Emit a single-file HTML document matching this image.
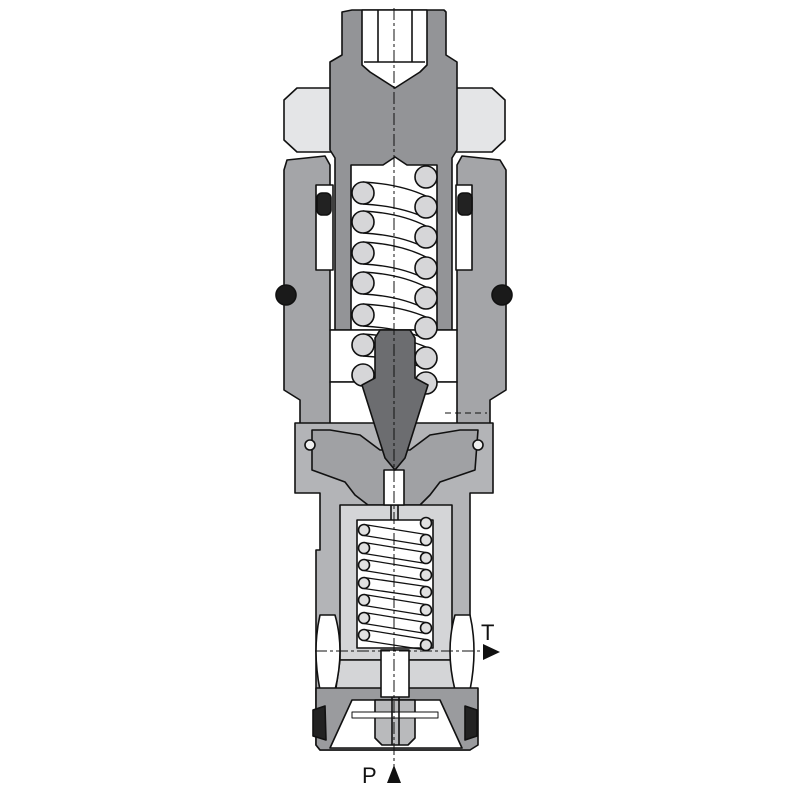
<!DOCTYPE html>
<html><head><meta charset="utf-8"><style>html,body{margin:0;padding:0;background:#fff}svg{display:block}</style></head>
<body>
<svg width="800" height="800" viewBox="0 0 800 800" xmlns="http://www.w3.org/2000/svg" stroke="#111" stroke-width="1.6" stroke-linejoin="round">
<path d="M287,160 L325,156 L330,165 L330,330 L457,330 L457,165 L462,156 L500,160 L506,170 L506,390 L490,400 L490,425 L300,425 L300,400 L284,390 L284,170 Z" fill="#a4a5a8"/>
<path d="M316,185 L333,185 L333,270 L316,270 Z" fill="#fff"/>
<path d="M456,185 L472,185 L472,270 L456,270 Z" fill="#fff"/>
<path d="M297,88 L334,88 L334,152 L297,152 L284,140 L284,100 Z" fill="#e4e5e7"/>
<path d="M455,88 L492,88 L505,100 L505,140 L492,152 L455,152 Z" fill="#e4e5e7"/>
<path d="M352,10 L444,10 L446,12 L446,55 L457,62 L457,150 L452,158 L452,330 L335,330 L335,158 L330,150 L330,62 L342,55 L342,12 Z" fill="#939497"/>
<path d="M362,10 L427,10 L427,65 L420,72 L395,88 L370,72 L362,65 Z" fill="#fff"/>
<line x1="378" y1="10" x2="378" y2="62"/><line x1="412" y1="10" x2="412" y2="62"/>
<line x1="364" y1="62" x2="425" y2="62"/>
<path d="M351,165 L383,165 L395,157 L407,165 L437,165 L437,330 L351,330 Z" fill="#fff"/>
<rect x="330" y="330" width="127" height="52" fill="#fff"/>
<path d="M330,382 L457,382 L457,425 L330,425 Z" fill="#fff"/>
<path d="M295,423 L493,423 L493,493 L470,493 L470,750 L320,750 L316,745 L316,550 L320,550 L320,493 L295,493 Z" fill="#b3b4b7"/>
<path d="M312,430 L330,430 L360,435 L380,450 L410,450 L430,435 L460,430 L478,430 L475,470 L440,482 L430,495 L420,505 L368,505 L355,495 L345,482 L312,470 Z" fill="#a0a1a4"/>
<circle cx="310" cy="445" r="5" fill="#eee"/><circle cx="478" cy="445" r="5" fill="#eee"/>
<rect x="340" y="505" width="112" height="155" fill="#d4d5d7"/>
<path d="M340,660 L452,660 L455,695 L335,695 Z" fill="#d4d5d7"/>
<path d="M320,615 L335,615 Q345,650 335,690 L320,690 Q312,650 320,615 Z" fill="#fff"/>
<path d="M455,615 L470,615 Q478,650 470,690 L455,690 Q445,650 455,615 Z" fill="#fff"/>
<path d="M316,688 L478,688 L478,745 L470,750 L320,750 L316,745 Z" fill="#9a9b9e"/>
<path d="M330,748 L352,700 L440,700 L462,748 Z" fill="#fff"/>
<path d="M375,700 L415,700 L415,738 L408,745 L382,745 L375,738 Z" fill="#b9babc"/>
<rect x="352" y="712" width="86" height="6" fill="#fff" stroke-width="1"/>
<path d="M313,710 L325,706 L326,740 L313,736 Z" fill="#222"/>
<path d="M465,706 L477,710 L477,736 L465,740 Z" fill="#222"/>
<rect x="381" y="650" width="28" height="47" fill="#fff"/>
<line x1="392" y1="697" x2="392" y2="745"/><line x1="399" y1="697" x2="399" y2="745"/>
<!-- spring 2 -->
<rect x="357" y="520" width="76" height="128" fill="#fff"/>
<g fill="none" stroke-width="1.3">
<path d="M364,524.5 L426,534.5 M364,535.5 L426,545.5"/>
<path d="M364,542.5 L426,552.5 M364,553.5 L426,563.5"/>
<path d="M364,559.5 L426,569.5 M364,570.5 L426,580.5"/>
<path d="M364,577.5 L426,586.5 M364,588.5 L426,597.5"/>
<path d="M364,594.5 L426,604.5 M364,605.5 L426,615.5"/>
<path d="M364,612.5 L426,622.5 M364,623.5 L426,633.5"/>
<path d="M364,629.5 L426,639.5 M364,640.5 L426,650"/>
</g>
<g fill="#e0e0e0">
<circle cx="364" cy="530" r="5.5"/><circle cx="364" cy="548" r="5.5"/><circle cx="364" cy="565" r="5.5"/><circle cx="364" cy="583" r="5.5"/><circle cx="364" cy="600" r="5.5"/><circle cx="364" cy="618" r="5.5"/><circle cx="364" cy="635" r="5.5"/>
<circle cx="426" cy="523" r="5.5"/><circle cx="426" cy="540" r="5.5"/><circle cx="426" cy="558" r="5.5"/><circle cx="426" cy="575" r="5.5"/><circle cx="426" cy="592" r="5.5"/><circle cx="426" cy="610" r="5.5"/><circle cx="426" cy="628" r="5.5"/><circle cx="426" cy="645" r="5.5"/>
</g>
<rect x="384" y="470" width="20" height="35" fill="#fff"/>
<line x1="391" y1="505" x2="391" y2="520"/><line x1="398" y1="505" x2="398" y2="520"/>
<!-- spring 1 -->
<g fill="none" stroke-width="1.4">
<path d="M363,182 Q400,184 426,196 M363,204 Q400,206 426,218"/>
<path d="M363,211 Q400,213 426,226 M363,233 Q400,235 426,248"/>
<path d="M363,242 Q400,244 426,257 M363,264 Q400,266 426,279"/>
<path d="M363,272 Q400,274 426,287 M363,294 Q400,296 426,309"/>
<path d="M363,304 Q400,306 426,317 M363,326 Q400,328 426,339"/>
<path d="M363,334 Q400,336 426,347 M363,356 Q400,358 426,369"/>
</g>
<g fill="#d6d6d8">
<circle cx="363" cy="193" r="11"/><circle cx="363" cy="222" r="11"/><circle cx="363" cy="253" r="11"/><circle cx="363" cy="283" r="11"/><circle cx="363" cy="315" r="11"/><circle cx="363" cy="345" r="11"/><circle cx="363" cy="375" r="11"/>
<circle cx="426" cy="177" r="11"/><circle cx="426" cy="207" r="11"/><circle cx="426" cy="237" r="11"/><circle cx="426" cy="268" r="11"/><circle cx="426" cy="298" r="11"/><circle cx="426" cy="328" r="11"/><circle cx="426" cy="358" r="11"/><circle cx="426" cy="383" r="11"/>
</g>
<path d="M380,330 L410,330 L415,338 L415,378 L428,385 L405,458 L395,470 L385,458 L362,385 L375,378 L375,338 Z" fill="#6c6d70"/>
<rect x="317" y="193" width="14" height="22" rx="5" fill="#222"/>
<rect x="458" y="193" width="14" height="22" rx="5" fill="#222"/>
<circle cx="286" cy="295" r="10" fill="#1a1a1a"/><circle cx="502" cy="295" r="10" fill="#1a1a1a"/>
<g stroke-width="1" stroke-dasharray="12,3,3,3" fill="none">
<line x1="394" y1="8" x2="394" y2="770"/>
<line x1="315" y1="651" x2="480" y2="651"/>
</g>
<line x1="445" y1="413" x2="487" y2="413" stroke-width="1" stroke-dasharray="6,4"/>
<path d="M483,644 L500,652 L483,660 Z" fill="#111" stroke="none"/>
<text x="481" y="640" font-family="Liberation Sans, sans-serif" font-size="22" fill="#111" stroke="none">T</text>
<text x="362" y="783" font-family="Liberation Sans, sans-serif" font-size="22" fill="#111" stroke="none">P</text>
<path d="M387,783 L394,765 L401,783 Z" fill="#111" stroke="none"/>
</svg>
</body></html>
